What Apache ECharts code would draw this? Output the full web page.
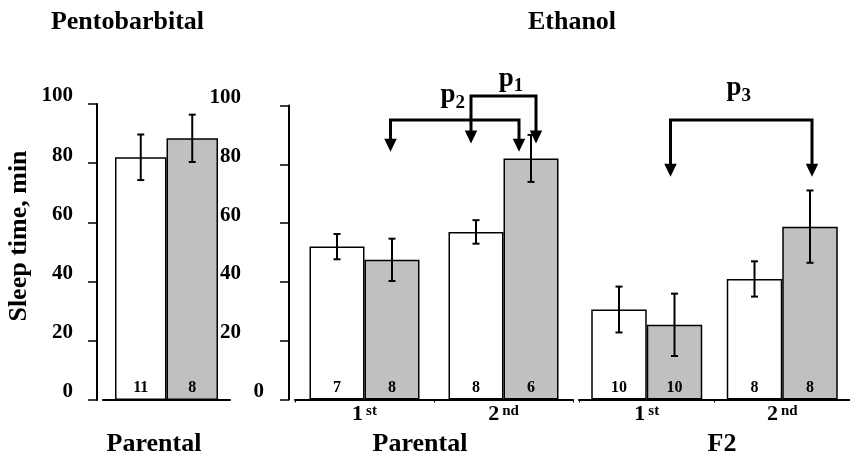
<!DOCTYPE html>
<html><head><meta charset="utf-8">
<script src="https://cdn.jsdelivr.net/npm/echarts@6/dist/echarts.min.js"></script>
<style>html,body{margin:0;padding:0;background:#fff}#c{width:850px;height:456px}</style>
</head><body><div id="c"></div>
<script>
// ---------------- data ----------------
const pentoCategories = ['Parental'];
const pentoWhite = [82.0];
const pentoWhiteErr = [7.7];
const pentoGray = [88.4];
const pentoGrayErr = [8.0];
const pentoWhiteN = [11];
const pentoGrayN = [8];

const sessionCategories = ['1st', '2nd'];
const parentalWhite = [52.0, 57.0];
const parentalWhiteErr = [4.3, 4.0];
const parentalGray = [47.5, 82.0];
const parentalGrayErr = [7.2, 8.0];
const parentalWhiteN = [7, 8];
const parentalGrayN = [8, 6];

const f2White = [30.6, 41.0];
const f2WhiteErr = [7.8, 6.0];
const f2Gray = [25.4, 58.8];
const f2GrayErr = [10.6, 12.3];
const f2WhiteN = [10, 8];
const f2GrayN = [10, 8];

const yMin = 0, yMax = 100, yStep = 20;

// comparison brackets (p1, p2, p3)
const bracketLabels = ['1', '2', '3'];
const bracketPanel = [1, 1, 2];
// [fromCategory, fromSide (0 white, 1 gray), toCategory, toSide]
const bracketSpans = [[1, 0, 1, 1], [0, 1, 1, 1], [0, 1, 1, 1]];
const bracketLevel = [103.2, 95.1, 95.1];
const bracketTip = [87.1, 84.3, 75.8];

const panelTitles = ['Pentobarbital', 'Ethanol'];
const panelGroups = ['Parental', 'Parental', 'F2'];
const yAxisTitle = 'Sleep time, min';

// ---------------- styles ----------------
const SERIF = '"Liberation Serif", "Times New Roman", serif';
const WHITE = '#ffffff', GRAY = '#c0c0c0';
const bracketStyle = [
  {dx1: -5, dx2: 5, labelDx: 7.5, labelGap: 0},
  {dx1: -1.5, dx2: -12, labelDx: -2, labelGap: 7},
  {dx1: -4, dx2: 2, labelDx: -2.5, labelGap: 14}
];
const BAR_W = [51.5, 55, 55.5];

const chart = echarts.init(document.getElementById('c'), null, {renderer: 'canvas'});

function yLabelRich(rightPad) {
  return {
    a: {fontFamily: SERIF, fontWeight: 'bold', fontSize: 21, color: '#000', padding: [0, rightPad, 16, 0]},
    z: {fontFamily: SERIF, fontWeight: 'bold', fontSize: 21, color: '#000', padding: [0, 0, 16, 0]}
  };
}

function errRender(barW) {
  return function (params, api) {
    const cat = api.value(0), mean = api.value(1), err = api.value(2), side = api.value(3);
    const c = api.coord([cat, mean]);
    const x = c[0] + (side ? barW / 2 : -barW / 2);
    const yHi = api.coord([cat, mean + err])[1];
    const yLo = api.coord([cat, mean - err])[1];
    const cap = 3.5;
    const st = {stroke: '#000', lineWidth: 2};
    return {type: 'group', children: [
      {type: 'line', shape: {x1: x, y1: yHi, x2: x, y2: yLo}, style: st},
      {type: 'line', shape: {x1: x - cap, y1: yHi, x2: x + cap, y2: yHi}, style: st},
      {type: 'line', shape: {x1: x - cap, y1: yLo, x2: x + cap, y2: yLo}, style: st}
    ]};
  };
}

function bracketRender(barW) {
  return function (params, api) {
    const k = api.value(6);
    const st = bracketStyle[k];
    const half = barW / 2;
    const x1 = api.coord([api.value(0), 0])[0] + (api.value(1) ? half : -half) + st.dx1;
    const x2 = api.coord([api.value(2), 0])[0] + (api.value(3) ? half : -half) + st.dx2;
    const yL = api.coord([0, api.value(4)])[1];
    const yT = api.coord([0, api.value(5)])[1];
    const ah = 13, aw = 12.5;
    return {type: 'group', children: [
      {type: 'polyline', shape: {points: [[x1, yT - ah + 1], [x1, yL], [x2, yL], [x2, yT - ah + 1]]},
        style: {stroke: '#000', lineWidth: 3, fill: null, lineJoin: 'miter'}},
      {type: 'polygon', shape: {points: [[x1 - aw / 2, yT - ah], [x1 + aw / 2, yT - ah], [x1, yT]]}, style: {fill: '#000'}},
      {type: 'polygon', shape: {points: [[x2 - aw / 2, yT - ah], [x2 + aw / 2, yT - ah], [x2, yT]]}, style: {fill: '#000'}},
      {type: 'text', x: (x1 + x2) / 2 + st.labelDx, y: yL - st.labelGap,
        style: {
          text: '{p|p}{s|' + bracketLabels[k] + '}',
          align: 'center', verticalAlign: 'bottom', textAlign: 'center', textVerticalAlign: 'bottom',
          rich: {
            p: {fontFamily: SERIF, fontWeight: 'bold', fontSize: 27, lineHeight: 27, fill: '#000', color: '#000', padding: [0, 0, 8, 0]},
            s: {fontFamily: SERIF, fontWeight: 'bold', fontSize: 19, lineHeight: 19, fill: '#000', color: '#000', verticalAlign: 'bottom'}
          }
        }}
    ]};
  };
}

function barSeries(idx, values, nums, color) {
  return {
    type: 'bar', xAxisIndex: idx, yAxisIndex: idx, data: values, barWidth: BAR_W[idx], barGap: '0%',
    itemStyle: {color: color, borderColor: '#000', borderWidth: 1.5},
    label: {show: true, position: 'insideBottom', distance: 4, formatter: p => String(nums[p.dataIndex]),
      fontFamily: SERIF, fontWeight: 'bold', fontSize: 16, color: '#000'},
    emphasis: {disabled: true}, animation: false, z: 2
  };
}

function errData(mW, eW, mG, eG) {
  const d = [];
  mW.forEach((v, i) => d.push([i, v, eW[i], 0]));
  mG.forEach((v, i) => d.push([i, v, eG[i], 1]));
  return d;
}

function bracketData(panel) {
  const d = [];
  bracketPanel.forEach((p, k) => {
    if (p === panel) {
      const s = bracketSpans[k];
      d.push([s[0], s[1], s[2], s[3], bracketLevel[k], bracketTip[k], k]);
    }
  });
  return d;
}

const catLabel = {
  show: true, margin: 4, interval: 0,
  formatter: v => { const m = v.match(/^(\d+)(\D+)$/); return '{n|' + m[1] + '}{s|' + m[2] + '}'; },
  rich: {
    n: {fontFamily: SERIF, fontWeight: 'bold', fontSize: 22, lineHeight: 22, color: '#000'},
    s: {fontFamily: SERIF, fontWeight: 'bold', fontSize: 15, lineHeight: 15, color: '#000', verticalAlign: 'top', padding: [0, 0, 0, 3]}
  }
};

const axisBlack = {lineStyle: {color: '#000', width: 2}};

const option = {
  animation: false,
  backgroundColor: '#fff',
  grid: [
    {left: 103, width: 127, top: 104, bottom: 56},
    {left: 295, width: 278, top: 105.5, bottom: 56.5},
    {left: 579, width: 278, top: 105.5, bottom: 56.5}
  ],
  xAxis: [
    {type: 'category', gridIndex: 0, data: pentoCategories, axisLine: axisBlack, axisTick: {show: false}, axisLabel: {show: false}},
    {type: 'category', gridIndex: 1, data: sessionCategories, axisLine: axisBlack,
      axisTick: {show: true, length: 3, lineStyle: {color: '#000', width: 1}}, axisLabel: catLabel},
    {type: 'category', gridIndex: 2, data: sessionCategories, axisLine: axisBlack,
      axisTick: {show: true, length: 3, lineStyle: {color: '#000', width: 1}}, axisLabel: catLabel}
  ],
  yAxis: [
    {type: 'value', gridIndex: 0, min: yMin, max: yMax, interval: yStep, offset: 6, splitLine: {show: false},
      axisLine: {show: true, lineStyle: {color: '#000', width: 2}},
      axisTick: {show: true, inside: false, length: 9, lineStyle: {color: '#000', width: 1.5}},
      axisLabel: {margin: 24, verticalAlign: 'middle', formatter: v => v === 0 ? '{z|0}' : '{a|' + v + '}', rich: yLabelRich(0)}},
    {type: 'value', gridIndex: 1, min: yMin, max: yMax, interval: yStep, offset: 6, splitLine: {show: false},
      axisLine: {show: true, lineStyle: {color: '#000', width: 2}},
      axisTick: {show: true, inside: false, length: 9, lineStyle: {color: '#000', width: 1.5}},
      axisLabel: {margin: 25, verticalAlign: 'middle', formatter: v => v === 0 ? '{z|0}' : '{a|' + v + '}', rich: yLabelRich(23)}},
    {type: 'value', gridIndex: 2, min: yMin, max: yMax, interval: yStep, show: false, splitLine: {show: false}}
  ],
  graphic: [
    {type: 'text', x: 127.5, y: 22, style: {text: panelTitles[0], font: 'bold 26px ' + SERIF, fill: '#000', textAlign: 'center', textVerticalAlign: 'middle'}},
    {type: 'text', x: 572, y: 22, style: {text: panelTitles[1], font: 'bold 26px ' + SERIF, fill: '#000', textAlign: 'center', textVerticalAlign: 'middle'}},
    {type: 'text', x: 154, y: 444, style: {text: panelGroups[0], font: 'bold 26px ' + SERIF, fill: '#000', textAlign: 'center', textVerticalAlign: 'middle'}},
    {type: 'text', x: 420, y: 444, style: {text: panelGroups[1], font: 'bold 26px ' + SERIF, fill: '#000', textAlign: 'center', textVerticalAlign: 'middle'}},
    {type: 'text', x: 722, y: 444, style: {text: panelGroups[2], font: 'bold 26px ' + SERIF, fill: '#000', textAlign: 'center', textVerticalAlign: 'middle'}},
    {type: 'text', x: 19.5, y: 236, rotation: Math.PI / 2, style: {text: yAxisTitle, font: 'bold 26px ' + SERIF, fill: '#000', textAlign: 'center', textVerticalAlign: 'middle'}}
  ],
  series: [
    barSeries(0, pentoWhite, pentoWhiteN, WHITE),
    barSeries(0, pentoGray, pentoGrayN, GRAY),
    barSeries(1, parentalWhite, parentalWhiteN, WHITE),
    barSeries(1, parentalGray, parentalGrayN, GRAY),
    barSeries(2, f2White, f2WhiteN, WHITE),
    barSeries(2, f2Gray, f2GrayN, GRAY),
    {type: 'custom', xAxisIndex: 0, yAxisIndex: 0, renderItem: errRender(BAR_W[0]), data: errData(pentoWhite, pentoWhiteErr, pentoGray, pentoGrayErr), encode: {x: 0, y: 1}, z: 5, clip: false, silent: true},
    {type: 'custom', xAxisIndex: 1, yAxisIndex: 1, renderItem: errRender(BAR_W[1]), data: errData(parentalWhite, parentalWhiteErr, parentalGray, parentalGrayErr), encode: {x: 0, y: 1}, z: 5, clip: false, silent: true},
    {type: 'custom', xAxisIndex: 2, yAxisIndex: 2, renderItem: errRender(BAR_W[2]), data: errData(f2White, f2WhiteErr, f2Gray, f2GrayErr), encode: {x: 0, y: 1}, z: 5, clip: false, silent: true},
    {type: 'custom', xAxisIndex: 1, yAxisIndex: 1, renderItem: bracketRender(BAR_W[1]), data: bracketData(1), encode: {x: 0, y: 4}, z: 6, clip: false, silent: true},
    {type: 'custom', xAxisIndex: 2, yAxisIndex: 2, renderItem: bracketRender(BAR_W[2]), data: bracketData(2), encode: {x: 0, y: 4}, z: 6, clip: false, silent: true}
  ]
};
chart.setOption(option);
</script>
</body></html>
